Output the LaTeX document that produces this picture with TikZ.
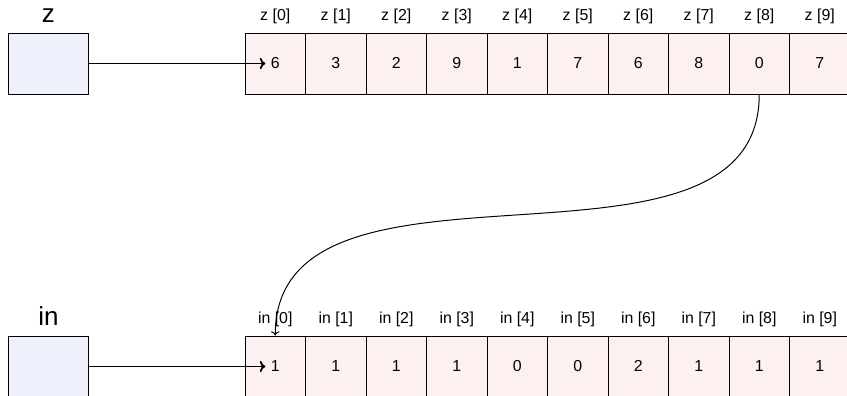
\documentclass[tikz,border=0pt]{standalone}
\usepackage{fontspec}
\setmainfont{Liberation Sans}
\usetikzlibrary{positioning, arrows.meta}

\definecolor{cellpink}{RGB}{253,240,240}
\definecolor{ptrblue}{RGB}{238,240,252}

\tikzset{
    cell/.style={draw, line width=0.7pt, fill=cellpink, minimum width=1.5125cm,
        minimum height=1.525cm, inner sep=0pt, text height=0.72em, text depth=0pt,
        font=\fontsize{11.3}{13}\selectfont},
    ptrbox/.style={draw, line width=0.7pt, fill=ptrblue, minimum width=1.975cm,
        minimum height=1.525cm, inner sep=0pt},
    idx/.style={inner sep=0pt, font=\fontsize{11.3}{13}\selectfont},
    varname/.style={inner sep=0pt, font=\fontsize{18.5}{20}\selectfont},
    ptrarrow/.style={-{To[length=4pt, width=8pt]}, line width=1.3pt},
}

\begin{document}
\begin{tikzpicture}[x=0.025cm, y=-0.025cm]

    % Page frame
    \clip (0,0) rectangle (847,395);

    % Top array z
    \foreach \i/\v in {0/6, 1/3, 2/2, 3/9, 4/1, 5/7, 6/6, 7/8, 8/0, 9/7}{
        \node[cell] (z\i) at ({275.25+60.5*\i}, 63.5) {\v};
        \node[idx, above=0.2cm of z\i] (zl\i) {z [\i]};
    }

    % Bottom array in
    \foreach \i/\v in {0/1, 1/1, 2/1, 3/1, 4/0, 5/0, 6/2, 7/1, 8/1, 9/1}{
        \node[cell] (in\i) at ({275.25+60.5*\i}, 366.5) {\v};
        \node[idx, above=0.2cm of in\i] (inl\i) {in [\i]};
    }

    % Pointer boxes
    \node[ptrbox] (zp) at (48.5, 63.5) {};
    \node[varname, above=0.25cm of zp] (zname) {z};
    \node[ptrbox] (inp) at (48.5, 366.5) {};
    \node[varname, above=0.25cm of inp] (inname) {in};

    % Pointer arrows
    \coordinate (zhead) at ([xshift=0.52cm]z0.west);
    \coordinate (inhead) at ([xshift=0.52cm]in0.west);
    \draw[ptrarrow] (zp) -- (zhead);
    \draw[ptrarrow] (inp) -- (inhead);

    % Link z[8] -> in[0]
    \draw[-{To[length=3pt, width=6pt]}, line width=0.7pt]
        (z8.south) .. controls +(0,208) and +(0,-208) .. (in0.north);

\end{tikzpicture}
\end{document}
